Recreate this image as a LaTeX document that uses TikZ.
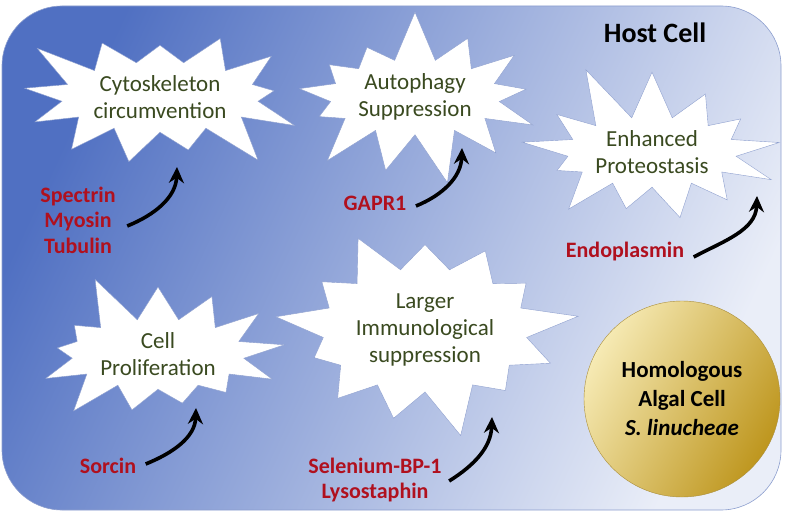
\documentclass[tikz,border=0pt]{standalone}
\usepackage{fontspec}
\setmainfont{Carlito}
\usepackage{tikz}
\usetikzlibrary{arrows.meta,shapes.symbols}

\definecolor{cellblue}{RGB}{80,112,194}
\definecolor{celllight}{RGB}{234,238,248}
\definecolor{cellline}{RGB}{140,158,206}
\definecolor{burstgreen}{RGB}{58,74,32}
\definecolor{protred}{RGB}{176,16,30}
\definecolor{algalight}{RGB}{246,234,180}
\definecolor{algadark}{RGB}{190,150,30}

\begin{document}
\begin{tikzpicture}[x=1pt,y=1pt,semithick]
  \tikzstyle{burst}=[starburst,starburst points=13,starburst point height=52pt,
    fill=white,draw=cellline,thin,text=burstgreen,align=center,
    font=\fontsize{23}{27}\selectfont,minimum width=268pt,minimum height=160pt]
  \tikzstyle{protein}=[text=protred,align=center,font=\fontsize{22}{25.5}\selectfont\bfseries]
  \tikzstyle{effect}=[-{Stealth[length=16pt,width=15pt]},line width=3.6pt]

  \useasboundingbox (0,0) rectangle (787,520);
  \draw[cellline,top color=cellblue,bottom color=celllight,shading angle=65,
    rounded corners=60pt] (2,10) rectangle (781,514);
  \node[font=\fontsize{28}{32}\selectfont\bfseries] (host) at (655,487) {Host Cell};

  % effects on the host
  \node[burst,random starburst=3] (cyto) at (160,423) {Cytoskeleton\\circumvention};
  \node[burst,random starburst=7] (auto) at (415,423) {Autophagy\\Suppression};
  \node[burst,random starburst=11,minimum height=190pt,starburst point height=60pt] (prot) at (652,368) {Enhanced\\Proteostasis};
  \node[burst,random starburst=5] (prolif) at (158,166) {Cell\\Proliferation};
  \node[burst,random starburst=9,minimum height=228pt] (immun) at (425,190) {Larger\\Immunological\\suppression};

  \node[circle,minimum size=196pt,draw=algadark!70!gray,thin,
    top color=algalight,bottom color=algadark,shading angle=60,
    align=center,font=\fontsize{23}{29}\selectfont\bfseries] (alga) at (682,121)
    {Homologous\\Algal Cell\\\textit{S. linucheae}};

  % algal proteins
  \node[protein] (spec) at (78,300) {Spectrin\\Myosin\\Tubulin};
  \node[protein] (gapr) at (375,317) {GAPR1};
  \node[protein] (endo) at (625,268) {Endoplasmin};
  \node[protein] (sorc) at (108,54) {Sorcin};
  \node[protein] (selen) at (375,40) {Selenium-BP-1\\Lysostaphin};

  \coordinate (t1) at (177,353);
  \coordinate (t2) at (462,372);
  \coordinate (t3) at (757,324);
  \coordinate (t4) at (196,112);
  \coordinate (t5) at (492,103);

  \draw[effect] ([xshift=8pt,yshift=-6pt]spec.east) to[out=22,in=-92] (t1);
  \draw[effect] ([xshift=6pt,yshift=-3pt]gapr.east) to[out=22,in=-92] (t2);
  \draw[effect] ([xshift=6pt,yshift=-5pt]endo.east) to[out=28,in=-92] (t3);
  \draw[effect] ([xshift=6pt,yshift=2pt]sorc.east) to[out=22,in=-92] (t4);
  \draw[effect] ([xshift=4pt,yshift=-1pt]selen.east) to[out=32,in=-92] (t5);
\end{tikzpicture}
\end{document}
